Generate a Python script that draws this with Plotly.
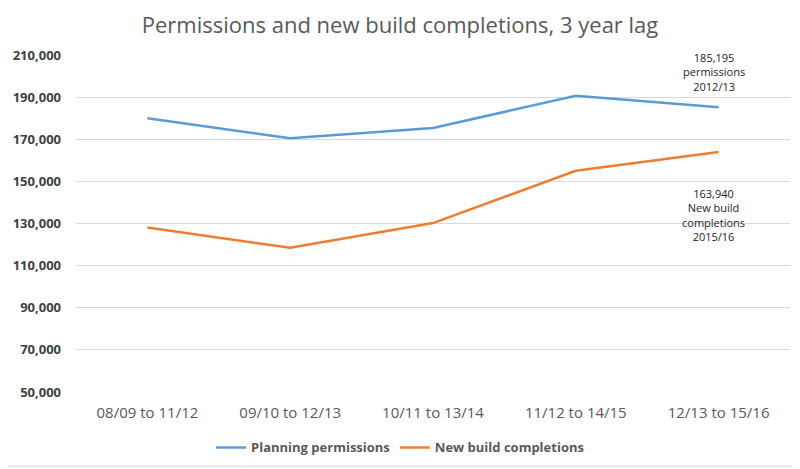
import plotly.graph_objects as go

categories = ["08/09 to 11/12", "09/10 to 12/13", "10/11 to 13/14", "11/12 to 14/15", "12/13 to 15/16"]
permissions = [180000, 170450, 175350, 190650, 185195]
completions = [128100, 118450, 130200, 155050, 163940]
tick_vals = [50000, 70000, 90000, 110000, 130000, 150000, 170000, 190000, 210000]

fig = go.Figure()
fig.add_trace(go.Scatter(x=categories, y=permissions, mode="lines", name="Planning permissions",
                         line=dict(color="#5B9BD5", width=2.5)))
fig.add_trace(go.Scatter(x=categories, y=completions, mode="lines", name="New build completions",
                         line=dict(color="#ED7D31", width=2.5)))

fig.update_layout(
    width=792, height=461,
    paper_bgcolor="white", plot_bgcolor="white",
    margin=dict(l=68, r=10, t=47, b=77, autoexpand=False),
    font=dict(family="Open Sans", color="#595959"),
    title=dict(text="Permissions and new build completions, 3 year lag", x=0.495, xref="container",
               xanchor="center", y=0.963, yanchor="middle",
               font=dict(size=22, color="#595959", family="Open Sans")),
    showlegend=True,
    legend=dict(orientation="h", xref="container", x=0.495, xanchor="center", y=-0.12, yanchor="top",
                font=dict(size=13, color="#595959", family="Open Sans", weight="bold")),
)
fig.update_xaxes(type="category", showgrid=False, showline=False, ticks="", automargin=False,
                 tickfont=dict(size=15, color="#595959"), range=[-0.5, 4.5], ticklabelstandoff=10)
fig.update_yaxes(range=[50000, 210000], tickvals=tick_vals, tickformat=",", showgrid=True,
                 gridcolor="#D9D9D9", gridwidth=1, zeroline=False, showline=False, automargin=False,
                 tickfont=dict(size=13, color="#404040", weight="bold"), ticklabelstandoff=14)

fig.add_annotation(xref="paper", yref="paper", x=0.893, y=1.022, text="185,195<br>permissions<br>2012/13",
                   showarrow=False, font=dict(size=11, color="#222222", family="Open Sans"),
                   xanchor="center", yanchor="top")
fig.add_annotation(xref="paper", yref="paper", x=0.893, y=0.618, text="163,940<br>New build<br>completions<br>2015/16",
                   showarrow=False, font=dict(size=11, color="#222222", family="Open Sans"),
                   xanchor="center", yanchor="top")
fig.add_shape(type="rect", xref="paper", yref="paper", x0=-0.2, x1=1.011, y0=-0.22, y1=1.3,
              line=dict(color="#D9D9D9", width=1))

fig.write_html("out.html")
